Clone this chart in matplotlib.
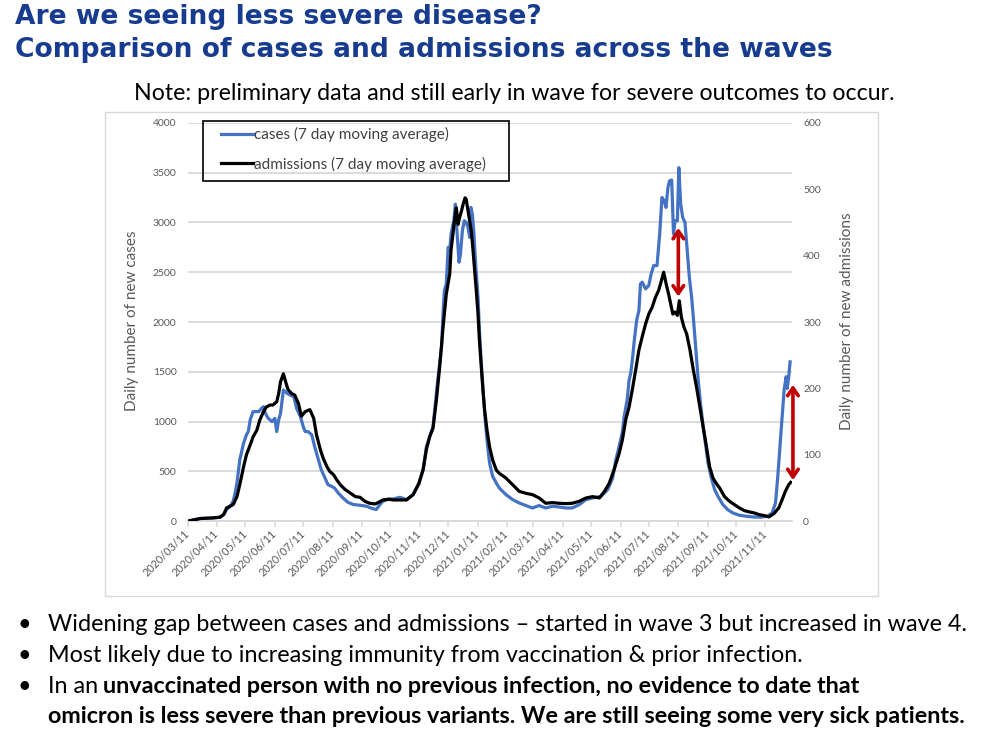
import numpy as np
import pandas as pd
import matplotlib
matplotlib.use("Agg")
import matplotlib.pyplot as plt
from matplotlib.lines import Line2D
from matplotlib.patches import Rectangle

# day offsets from 2020/03/11
start = pd.Timestamp("2020-03-11")
end_day = 638

case_days = [0, 13, 27, 34, 38, 41, 45, 48, 50, 52, 55, 59, 62, 64, 66, 69, 75, 78, 80, 82,
             85, 89, 92, 94, 96, 98, 101, 105, 108, 112, 115, 119, 122, 124, 127, 131, 134,
             138, 141, 145, 148, 152, 155, 159, 164, 169, 175, 182, 189, 194, 199, 203, 206,
             212, 217, 224, 231, 238, 244, 248.6, 252, 255.6, 259, 262.6, 264, 268, 269.6,
             271, 273, 275, 276.6, 278, 281, 282.6, 284, 286.5, 288, 290, 292, 294, 296,
             297.7, 299, 300.5, 302, 304, 306.5, 308, 310, 311.7, 313.5, 316, 318.7, 322,
             325.8, 329, 336, 343, 350, 357, 364, 371, 378, 385, 392, 399, 406, 413.5,
             420.5, 427.5, 436.4, 443.4, 448.6, 452, 455.5, 459, 460.8, 464.2, 466, 467.7,
             469.4, 471.9, 474, 476.4, 478, 479.9, 483.4, 486.8, 489.3, 492, 495.5, 498.3,
             500.7, 503, 505, 507, 508.7, 511, 512.9, 514.6, 517, 518.5, 520.5, 522.6, 525,
             526.8, 529.6, 532, 533.8, 536.5, 539, 541.4, 544.2, 547, 549.4, 552.9, 556.3,
             559.8, 565, 570, 575.5, 582.4, 589.4, 596.3, 605, 612, 617, 620.6, 623, 625.5,
             627.6, 629.7, 631.8, 633, 634.5, 636]
cases = [0, 27, 33, 40, 67, 117, 150, 200, 283, 383, 617, 783, 867, 900, 1017, 1100, 1100,
         1133, 1150, 1083, 1033, 1000, 1033, 900, 1017, 1083, 1317, 1283, 1267, 1250, 1133,
         1050, 950, 900, 900, 867, 750, 617, 517, 433, 367, 350, 333, 283, 233, 190, 167,
         160, 150, 130, 117, 167, 200, 223, 223, 240, 217, 267, 370, 517, 750, 850, 950,
         1283, 1417, 1750, 2083, 2317, 2383, 2750, 2717, 2883, 3017, 3183, 2950, 2600, 2683,
         2917, 3017, 3000, 2950, 2850, 3150, 3083, 2917, 2583, 2250, 1917, 1583, 1350, 1083,
         817, 583, 450, 383, 333, 267, 217, 183, 157, 133, 157, 133, 150, 143, 133, 133,
         167, 217, 233, 250, 317, 433, 617, 750, 900, 1050, 1233, 1417, 1483, 1617, 1850,
         2017, 2117, 2383, 2400, 2333, 2367, 2483, 2567, 2567, 2883, 3250, 3217, 3150, 3350,
         3417, 3425, 2883, 3017, 3017, 3550, 3183, 3050, 3000, 2783, 2450, 2250, 2050, 1717,
         1417, 1183, 950, 750, 583, 433, 317, 250, 167, 117, 83, 60, 50, 43, 40, 50, 83,
         183, 450, 783, 1050, 1317, 1450, 1333, 1450, 1600]

adm_days = [0, 13, 27, 34, 38, 41, 48, 52, 55, 59, 62, 66, 69, 73, 76, 80, 83, 87, 90, 94,
            96, 98, 101, 104, 106, 110, 113, 117, 120, 124, 129, 133, 136, 140, 143, 147,
            150, 154, 157, 161, 166, 171, 177, 182, 187, 192, 198, 201, 206, 212, 217, 224,
            231, 238, 244, 248.6, 252, 255.6, 259, 262.6, 266, 269.6, 273, 276.6, 278, 280,
            282, 283.6, 285.4, 287, 289, 290.7, 292.8, 294, 296, 297.7, 299.4, 301, 303,
            304.7, 306.5, 308, 310, 311.7, 313.5, 316, 318.7, 322, 325.8, 329, 336, 343,
            350, 357, 364, 371, 378, 385, 392, 399, 406, 413.5, 420.5, 427.5, 434.7, 440,
            445, 450.3, 455.5, 459, 462.5, 466, 469.4, 473, 476.4, 479.9, 483.4, 486.8,
            490.3, 493.8, 497.3, 499.7, 502.5, 505.2, 507.7, 510, 512.2, 514.6, 517, 519,
            521.2, 524, 526.8, 530.3, 533.8, 537.2, 540.7, 544.2, 547.7, 551, 554.6, 558,
            561.6, 566.8, 572, 577.2, 582.4, 587.6, 592.8, 598, 603, 608.5, 613.7, 619, 624,
            627.6, 631, 634.5, 636.6]
admissions = [0, 4, 5, 6, 10, 20, 25, 37, 55, 82, 100, 115, 127, 137, 152, 165, 172, 175,
              175, 180, 192, 210, 222, 207, 198, 192, 190, 177, 158, 165, 168, 155, 130, 108,
              95, 82, 75, 70, 63, 55, 48, 43, 37, 36, 30, 27, 26, 28, 32, 33, 32, 32, 32, 40,
              57, 78, 108, 128, 140, 183, 232, 292, 342, 372, 408, 432, 457, 472, 447, 457,
              467, 477, 487, 485, 467, 452, 437, 412, 377, 347, 312, 272, 232, 197, 167, 137,
              112, 92, 77, 72, 65, 55, 45, 42, 40, 35, 27, 28, 27, 26.5, 27, 30, 35, 37, 35,
              45, 57, 78, 102, 123, 153, 172, 198, 228, 258, 278, 297, 312, 322, 337, 348,
              360, 375, 357, 342, 327, 312, 315, 310, 332, 307, 292, 282, 258, 228, 202, 172,
              142, 112, 82, 65, 57, 50, 37, 30, 25, 20, 16, 14, 12.5, 10, 8.5, 6.5, 11.5, 20,
              32.5, 45, 55, 58.5]

# red gap arrows (date, top, bottom on the cases scale)
gap_dates = ["2021-08-11", "2021-12-10"]
gap_top = [2944, 1369]
gap_bottom = [2256, 413]

month_ticks = pd.date_range(start, "2021-11-11", freq=pd.DateOffset(months=1))

title_lines = ["Are we seeing less severe disease?",
               "Comparison of cases and admissions across the waves"]
note = "Note: preliminary data and still early in wave for severe outcomes to occur."
bullet1 = "Widening gap between cases and admissions \u2013 started in wave 3 but increased in wave 4."
bullet2 = "Most likely due to increasing immunity from vaccination & prior infection."
bullet3a = "In an"
bullet3b = "unvaccinated person with no previous infection, no evidence to date that"
bullet4 = "omicron is less severe than previous variants. We are still seeing some very sick patients."

BLUE = "#4472C4"
GRID = "#D9D9D9"
TXT = "#595959"
TITLE = "#173C8F"
W, H = 1006, 732

fig = plt.figure(figsize=(W / 100, H / 100), dpi=100)
fig.patches.append(Rectangle((105 / W, 1 - 596 / H), 773 / W, 484 / H, transform=fig.transFigure,
                             fill=False, edgecolor=GRID, lw=1))

ax = fig.add_axes([187.7 / W, 1 - 521.2 / H, 604.3 / W, 398.4 / H])
case_dates = start + pd.to_timedelta(case_days, unit="D")
adm_dates = start + pd.to_timedelta(adm_days, unit="D")
ax.plot(case_dates, cases, color=BLUE, lw=2.3, zorder=3)
ax.set_xlim(start, start + pd.Timedelta(days=end_day))
ax.set_ylim(0, 4000)
ax.set_yticks(range(0, 4001, 500))
ax.grid(axis="y", color=GRID, lw=1.3)
ax.set_axisbelow(True)
for s in ["top", "left", "right"]:
    ax.spines[s].set_visible(False)
ax.spines["bottom"].set_color(GRID)
ax.spines["bottom"].set_linewidth(1.3)
ax.tick_params(axis="y", length=0, pad=8, labelsize=7.5, labelcolor=TXT)
ax.set_xticks(month_ticks)
ax.set_xticklabels([d.strftime("%Y/%m/%d") for d in month_ticks], rotation=45, ha="right",
                   va="center", rotation_mode="anchor")
ax.tick_params(axis="x", length=4, width=1.2, color=GRID, pad=4, labelsize=7.8, labelcolor=TXT)
for lab in ax.get_xticklabels() + ax.get_yticklabels():
    lab.set_family("Lato")

ax2 = ax.twinx()
ax2.plot(adm_dates, admissions, color="black", lw=2.3)
ax2.set_ylim(0, 600)
ax2.set_yticks(range(0, 601, 100))
for s in ax2.spines.values():
    s.set_visible(False)
ax2.tick_params(axis="y", length=0, pad=8, labelsize=7.5, labelcolor=TXT)
for lab in ax2.get_yticklabels():
    lab.set_family("Lato")

for d, top, bot in zip(gap_dates, gap_top, gap_bottom):
    ax.annotate("", xy=(pd.Timestamp(d), top), xytext=(pd.Timestamp(d), bot),
                arrowprops=dict(arrowstyle="<->,head_length=0.55,head_width=0.38",
                                color="#C00000", lw=2.6, shrinkA=0, shrinkB=0),
                annotation_clip=False, zorder=5)

fig.text(132 / W, 1 - 321 / H, "Daily number of new cases", rotation=90, ha="center",
         va="center", fontsize=11, color=TXT, family="Lato")
fig.text(847 / W, 1 - 321 / H, "Daily number of new admissions", rotation=90, ha="center",
         va="center", fontsize=11, color=TXT, family="Lato")

# legend with square frame drawn by hand
handles = [Line2D([], [], color=BLUE, lw=2.3), Line2D([], [], color="black", lw=2.3)]
leg = fig.legend(handles, ["cases (7 day moving average)", "admissions (7 day moving average)"],
                 loc="upper left", bbox_to_anchor=(221 / W, 1 - 127 / H), frameon=False,
                 prop={"family": "Lato", "size": 11}, handlelength=2.1, handletextpad=0.05,
                 labelspacing=0.95, borderpad=0, borderaxespad=0)
for t in leg.get_texts():
    t.set_color("#404040")
fig.patches.append(Rectangle((203 / W, 1 - 181 / H), 306 / W, 60 / H, transform=fig.transFigure,
                             fill=False, edgecolor="black", lw=1.2, zorder=10))

fig.text(15 / W, 1 - 24 / H, title_lines[0], fontsize=19.1, fontweight="bold", color=TITLE,
         family="DejaVu Sans")
fig.text(15 / W, 1 - 57 / H, title_lines[1], fontsize=19.1, fontweight="bold", color=TITLE,
         family="DejaVu Sans")
fig.text(514 / W, 1 - 100 / H, note, ha="center", fontsize=16.7, family="Lato", color="black")

body = dict(fontsize=16.85, family="Lato", color="black")
rows = [631, 662, 693, 723]
for y in rows[:3]:
    fig.text(17 / W, 1 - y / H, "\u2022", **body)
fig.text(48 / W, 1 - rows[0] / H, bullet1, **body)
fig.text(48 / W, 1 - rows[1] / H, bullet2, **body)
t3 = fig.text(48 / W, 1 - rows[2] / H, bullet3a, **body)
fig.canvas.draw()
bb = t3.get_window_extent()
fig.text(bb.x1 / W + 5 / W, 1 - rows[2] / H, bullet3b, fontweight="bold", **body)
fig.text(48 / W, 1 - rows[3] / H, bullet4, fontweight="bold", **body)

fig.savefig("out.png", dpi=100)
